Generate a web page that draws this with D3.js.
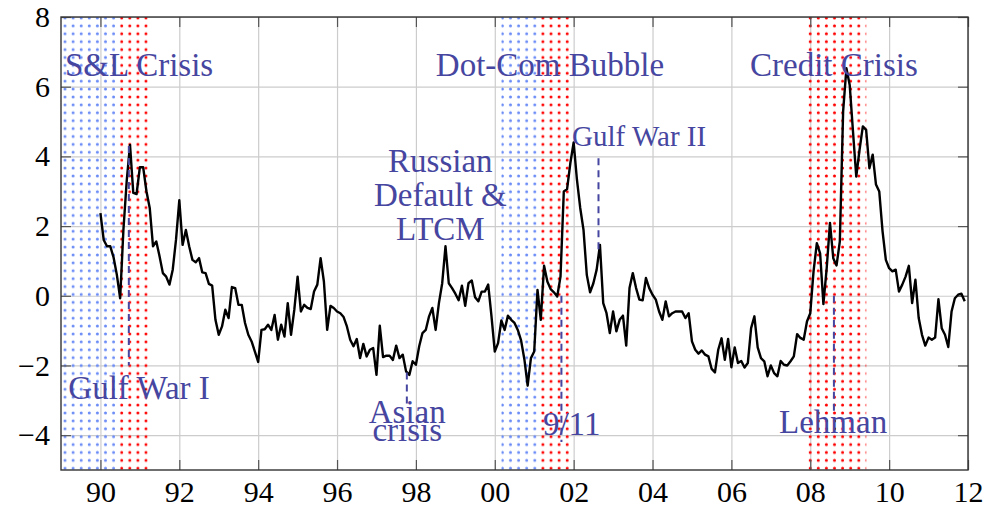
<!DOCTYPE html>
<html>
<head>
<meta charset="utf-8">
<script src="https://cdn.jsdelivr.net/npm/d3@7"></script>
<style>
  body { margin: 0; background: #fff; }
  svg text { font-family: "Liberation Serif", "DejaVu Serif", "Times New Roman", serif; }
</style>
</head>
<body>
<div id="canvas"></div>
<script>
"use strict"

// Monthly spread, first value is Jan 1990
let startYear = 1990

let spread1990s = [
  2.37, 1.60, 1.42, 1.42, 1.10, 0.60, -0.07, 1.90, 3.30, 4.33, 2.95, 2.92,
  3.69, 3.69, 3.00, 2.52, 1.42, 1.56, 1.13, 0.65, 0.55, 0.32, 0.75, 1.61,
  2.74, 1.46, 1.89, 1.42, 1.03, 0.96, 1.08, 0.67, 0.65, 0.34, 0.29, -0.69,
  -1.12, -0.88, -0.40, -0.64, 0.25, 0.22, -0.26, -0.26, -0.78, -1.12, -1.31, -1.60,
  -1.90, -0.98, -0.96, -0.83, -0.98, -0.55, -1.26, -0.83, -1.17, -0.21, -1.12, -0.40,
  0.55, -0.45, -0.26, -0.35, -0.38, 0.12, 0.32, 1.08, 0.41, -0.98, -0.29, -0.35,
  -0.45, -0.50, -0.61, -0.88, -1.26, -1.45, -1.24, -1.79, -1.38, -1.74, -1.55, -1.50,
  -2.27, -0.86, -1.76, -1.72, -1.72, -1.84, -1.43, -1.79, -1.69, -2.17, -2.27, -1.88,
  -1.98, -1.45, -1.07, -0.98, -0.59, -0.35, -0.98, -0.21, 0.36, 1.42, 0.36, 0.22,
  0.06, -0.13, 0.29, -0.29, 0.36, 0.44, -0.04, -0.16, 0.12, 0.12, 0.32, -0.59
]

let spread2000s = [
  -1.60, -1.36, -0.71, -0.98, -0.57, -0.69, -0.78, -0.98, -1.28, -1.82, -2.58, -1.79,
  -1.60, 0.17, -0.69, 0.86, 0.41, 0.19, 0.10, -0.02, 0.55, 2.99, 3.06, 3.81,
  4.40, 3.33, 2.52, 1.89, 0.60, 0.10, 0.36, 0.75, 1.46, -0.21, -0.50, -1.07,
  -0.45, -1.02, -0.69, -0.57, -1.43, 0.22, 0.65, 0.22, -0.11, -0.13, 0.51, 0.22,
  0.03, -0.11, -0.45, -0.69, -0.16, -0.59, -0.50, -0.45, -0.45, -0.45, -0.64, -0.50,
  -1.31, -1.55, -1.66, -1.57, -1.69, -1.74, -2.10, -2.20, -1.55, -1.22, -1.84, -1.24,
  -2.05, -1.48, -1.93, -1.87, -2.06, -1.93, -0.93, -0.59, -1.48, -1.79, -1.88, -2.31,
  -2.00, -2.22, -2.31, -1.87, -1.98, -2.00, -1.88, -1.74, -1.10, -1.21, -1.26, -0.74,
  -0.50, 0.70, 1.51, 1.22, -0.24, 0.79, 2.09, 1.08, 0.87, 1.56, 5.29, 6.53,
  6.05, 4.72, 3.42, 4.19, 4.86, 4.76, 3.66, 4.05, 3.19, 2.99, 1.85, 1.03,
  0.79, 0.70, 0.75, 0.12, 0.32, 0.55, 0.86, -0.21, 0.46, -0.64, -1.12, -1.43,
  -1.20, -1.26, -1.20, -0.10, -0.93, -1.12, -1.47, -0.45, -0.07, 0.03, 0.06, -0.16
]

let xTicks = [1990, 1992, 1994, 1996, 1998, 2000, 2002, 2004, 2006, 2008, 2010, 2012]
let yTicks = [-4, -2, 0, 2, 4, 6, 8]

// blue = crisis periods, red = recessions
let crisisPeriods = [[1989, 1990.5], [2000.17, 2001.17]]
let recessionPeriods = [[1990.5, 1991.2], [2001.17, 2001.9], [2007.92, 2009.42]]

// annotation texts, anchored at (year, value) of their baseline centre
let labels = [
  {text: "S&L Crisis", year: 1990.98, value: 6.3},
  {text: "Dot-Com Bubble", year: 2001.4, value: 6.3},
  {text: "Credit Crisis", year: 2008.6, value: 6.3},
  {text: "Gulf War I", year: 1990.98, value: -2.96},
  {text: "Russian", year: 1998.62, value: 3.56},
  {text: "Default &", year: 1998.62, value: 2.57},
  {text: "LTCM", year: 1998.62, value: 1.59},
  {text: "Asian", year: 1997.78, value: -3.64},
  {text: "crisis", year: 1997.78, value: -4.16},
  {text: "9/11", year: 2001.95, value: -3.99},
  {text: "Gulf War II", year: 2003.66, value: 4.31, small: true},
  {text: "Lehman", year: 2008.58, value: -3.94}
]

// dashed event markers
let events = [
  {year: 1990.72, from: 4.3, to: -2.0},
  {year: 1997.77, from: -2.2, to: -3.2},
  {year: 2001.69, from: 0.0, to: -4.2},
  {year: 2002.63, from: 3.95, to: 1.3},
  {year: 2008.6, from: 0.0, to: -3.35}
]

let spread = spread1990s.concat(spread2000s)

let width = 987
let height = 510
let labelColor = "#4646a0"
let serif = "'Liberation Serif', 'DejaVu Serif', 'Times New Roman', serif"

let x = d3.scaleLinear().domain([1989, 2012]).range([61, 968])
let y = d3.scaleLinear().domain([-5, 8]).range([470, 17])
let plotW = x(2012) - x(1989)
let plotH = y(-5) - y(8)

let drawing = d3.select("#canvas")
    .append("svg")
    .attr("width", width)
    .attr("height", height)

let defs = drawing.append("defs")

defs.append("clipPath")
    .attr("id", "plotClip")
    .append("rect")
    .attr("x", x(1989))
    .attr("y", y(8))
    .attr("width", plotW)
    .attr("height", plotH)

function dotPattern(id, color) {
    let p = defs.append("pattern")
        .attr("id", id)
        .attr("patternUnits", "userSpaceOnUse")
        .attr("x", 61)
        .attr("y", 14)
        .attr("width", 8.1)
        .attr("height", 7.9)
    p.append("circle")
        .attr("cx", 4)
        .attr("cy", 4)
        .attr("r", 1.5)
        .attr("fill", color)
}
dotPattern("dotsBlue", "#6b8cf6")
dotPattern("dotsRed", "#ff0000")

// grid lines
let gridX = drawing.append("g")
    .attr("transform", "translate(0," + y(-5) + ")")
    .call(d3.axisBottom(x).tickValues(xTicks).tickSize(-plotH).tickFormat(""))
gridX.select(".domain").remove()
gridX.selectAll("line").attr("stroke", "#cccccc").attr("stroke-width", 1.2)

let gridY = drawing.append("g")
    .attr("transform", "translate(" + x(1989) + ",0)")
    .call(d3.axisLeft(y).tickValues(yTicks).tickSize(-plotW).tickFormat(""))
gridY.select(".domain").remove()
gridY.selectAll("line").attr("stroke", "#cccccc").attr("stroke-width", 1.2)

// shaded periods
let shading = drawing.append("g").attr("clip-path", "url(#plotClip)")

shading.selectAll(".crisis")
    .data(crisisPeriods)
    .enter()
    .append("rect")
    .attr("x", d => x(d[0]))
    .attr("y", y(8))
    .attr("width", d => x(d[1]) - x(d[0]))
    .attr("height", plotH)
    .attr("fill", "url(#dotsBlue)")

shading.selectAll(".recession")
    .data(recessionPeriods)
    .enter()
    .append("rect")
    .attr("x", d => x(d[0]))
    .attr("y", y(8))
    .attr("width", d => x(d[1]) - x(d[0]))
    .attr("height", plotH)
    .attr("fill", "url(#dotsRed)")

// axes with inward ticks on all sides
function styleAxis(g, labelsOn) {
    g.attr("font-family", serif)
    g.select(".domain").remove()
    g.selectAll(".tick line").attr("stroke", "#555").attr("stroke-width", 1.2)
    g.selectAll(".tick text")
        .attr("fill", "#000")
        .attr("font-family", serif)
        .attr("font-size", labelsOn ? 30 : 0)
}

let bottomAxis = drawing.append("g")
    .attr("transform", "translate(0," + y(-5) + ")")
    .call(d3.axisBottom(x).tickValues(xTicks).tickSize(-10).tickPadding(11)
        .tickFormat(d => String(d % 100).padStart(2, "0")))
styleAxis(bottomAxis, true)

let topAxis = drawing.append("g")
    .attr("transform", "translate(0," + y(8) + ")")
    .call(d3.axisTop(x).tickValues(xTicks).tickSize(-10).tickFormat(""))
styleAxis(topAxis, false)

let leftAxis = drawing.append("g")
    .attr("transform", "translate(" + x(1989) + ",0)")
    .call(d3.axisLeft(y).tickValues(yTicks).tickSize(-10).tickPadding(11))
styleAxis(leftAxis, true)

let rightAxis = drawing.append("g")
    .attr("transform", "translate(" + x(2012) + ",0)")
    .call(d3.axisRight(y).tickValues(yTicks).tickSize(-10).tickFormat(""))
styleAxis(rightAxis, false)

let frame = drawing.append("rect")
    .attr("x", x(1989))
    .attr("y", y(8))
    .attr("width", plotW)
    .attr("height", plotH)
    .attr("fill", "none")
    .attr("stroke", "#333")
    .attr("stroke-width", 1.4)

// the spread line
let line = d3.line()
    .x((d, i) => x(startYear + i / 12))
    .y(d => y(d))

drawing.append("path")
    .datum(spread)
    .attr("d", line)
    .attr("fill", "none")
    .attr("stroke", "#000")
    .attr("stroke-width", 2.4)
    .attr("stroke-linejoin", "round")

// event markers
drawing.selectAll(".event")
    .data(events)
    .enter()
    .append("line")
    .attr("x1", d => x(d.year))
    .attr("x2", d => x(d.year))
    .attr("y1", d => y(d.from))
    .attr("y2", d => y(d.to))
    .attr("stroke", labelColor)
    .attr("stroke-width", 2)
    .attr("stroke-dasharray", "7,5")

// annotation texts
drawing.selectAll(".label")
    .data(labels)
    .enter()
    .append("text")
    .attr("x", d => x(d.year))
    .attr("y", d => y(d.value))
    .attr("text-anchor", "middle")
    .attr("fill", labelColor)
    .attr("font-family", serif)
    .attr("font-size", d => d.small ? 29 : 33)
    .text(d => d.text)
</script>
</body>
</html>
